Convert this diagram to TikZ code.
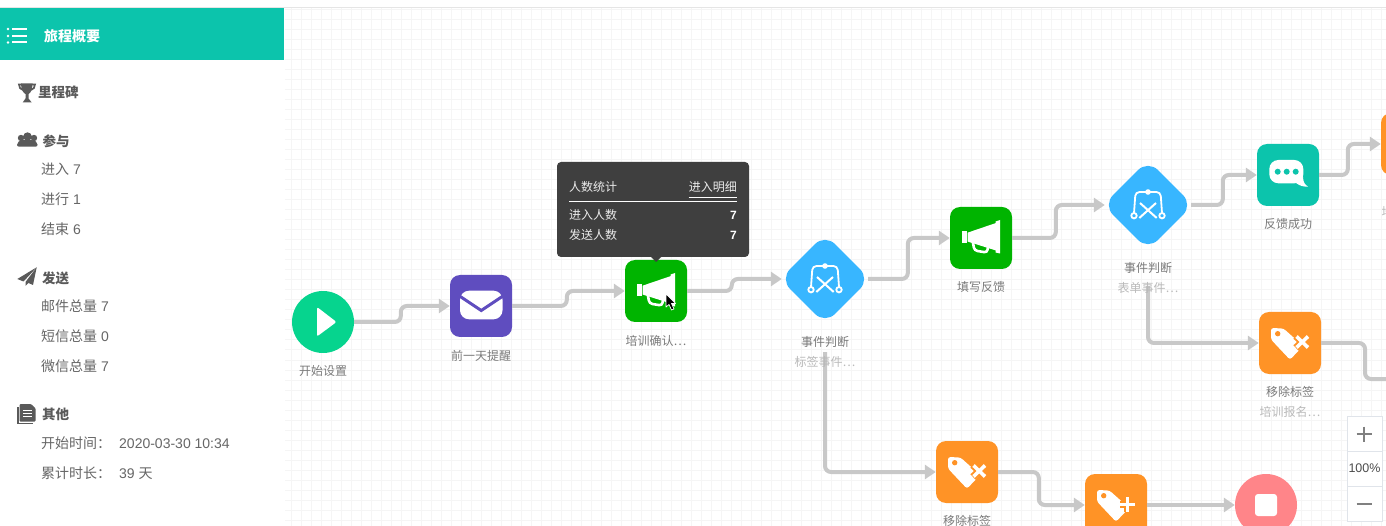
\documentclass[tikz,border=0pt]{standalone}
\usepackage{fontspec}
\setmainfont{Liberation Sans}
\newfontfamily\cjk{Noto Sans CJK SC}
\usetikzlibrary{positioning,arrows.meta,shapes.geometric}

\definecolor{teal1}{HTML}{0CC4AC}
\definecolor{green1}{HTML}{00B400}
\definecolor{green2}{HTML}{06D48E}
\definecolor{purple1}{HTML}{5F4DBF}
\definecolor{blue1}{HTML}{38B6FF}
\definecolor{orange1}{HTML}{FF9326}
\definecolor{pink1}{HTML}{FF8589}
\definecolor{flow1}{HTML}{C8C8C8}
\definecolor{dark1}{HTML}{3F3F3F}
\definecolor{head1}{HTML}{5A5A5A}
\definecolor{item1}{HTML}{666666}
\definecolor{zoomline}{HTML}{E0E4EA}

\newcommand{\pxfont}[1]{\fontsize{#1pt}{#1pt}\selectfont}

\tikzset{
  gridline/.style={draw=black!4, line width=1pt},
  box/.style={rectangle, rounded corners=10pt, minimum size=62pt, inner sep=0pt},
  judge/.style={diamond, aspect=1, fill=blue1, rounded corners=14pt, minimum size=90pt, inner sep=0pt},
  round/.style={circle, minimum size=62pt, inner sep=0pt},
  flow/.style={draw=flow1, line width=4pt, rounded corners=6pt, -{Triangle[length=11pt,width=14pt]}},
  flowend/.style={draw=flow1, line width=4pt, rounded corners=6pt},
  label1/.style={inner sep=0pt, text=black!52, font=\cjk\pxfont{12}},
  label2/.style={inner sep=0pt, text=black!27, font=\cjk\pxfont{12}},
  sidehead/.style={anchor=west, inner sep=0pt, text=head1, font=\cjk\bfseries\pxfont{13.5}},
  sideitem/.style={anchor=west, inner sep=0pt, text=item1, font=\pxfont{14}},
  tiptext/.style={anchor=west, inner sep=0pt, text=white!92!black, font=\cjk\pxfont{12}},
  tipnum/.style={anchor=east, inner sep=0pt, text=white, font=\bfseries\pxfont{12}},
  zoombox/.style={draw=zoomline, fill=white, minimum size=35pt, inner sep=0pt, text=black!70, font=\pxfont{12.5}},
  hornicon/.pic={
    \fill[white] (-19,-7.3) rectangle (-14.3,4.7);
    \fill[white] (-13.5,-5.3) -- (15,-15) -- (15,12.5) -- (-13.5,3.5) -- cycle;
    \fill[white] (14.5,-16.5) -- (19,-18) -- (19,15.5) -- (14.5,14.5) -- cycle;
    \draw[white, line width=2.6pt, rounded corners=3pt] (-8,5) -- (-6.6,12.5) -- (6.2,14.6) -- (7,8);
  },
  mailicon/.pic={
    \fill[white, rounded corners=9pt] (-21,-15.3) rectangle (21.5,13.3);
    \draw[purple1, line width=3pt] (-23,-11) -- (0.2,4.5) -- (23.5,-11);
  },
  playicon/.pic={
    \fill[white, rounded corners=2pt] (-6,-15) -- (13.5,0) -- (-6,14.5) -- cycle;
  },
  judgeicon/.pic={
    \fill[white] (0,-13) circle[radius=2.8pt];
    \draw[white, line width=1.8pt, rounded corners=4pt] (0,-13) -- (-12.5,-13) -- (-14,8);
    \draw[white, line width=1.8pt, rounded corners=4pt] (0,-13) -- (12.5,-13) -- (14,8);
    \draw[white, line width=1.8pt] (-14,10.7) circle[radius=2.7pt] (14,10.7) circle[radius=2.7pt];
    \draw[white, line width=2pt] (-8,-2) -- (8.7,13) (8,-2) -- (-8.7,13);
  },
  chaticon/.pic={
    \fill[white, rounded corners=9pt] (-18.7,-15) rectangle (15.3,8.3);
    \fill[white] (9,4) -- (15,2) .. controls (15,7) and (17,10) .. (20,11.5) .. controls (16,12) and (12,11) .. (8,8) -- cycle;
    \fill[teal1] (-10.3,-3.3) circle[radius=3pt] (-1.3,-3.3) circle[radius=3pt] (7.7,-3.3) circle[radius=3pt];
  },
  tagbody/.pic={
    \fill[white, rounded corners=2.5pt] (-19,-15) -- (-6.5,-14.5) -- (13,3) -- (0,16.7) -- (-19,-3.5) -- cycle;
    \fill[orange1] (-12.3,-9.3) circle[radius=2.7pt];
  },
  tagcross/.pic={
    \draw[orange1, line width=7.5pt] (6,-7) -- (18.5,5) (18.5,-7) -- (6,5);
    \draw[white, line width=3.6pt] (6.5,-6.5) -- (18,4.5) (18,-6.5) -- (6.5,4.5);
  },
  tagplus/.pic={
    \draw[orange1, line width=7.5pt] (11.3,-8) -- (11.3,6.5) (4,-0.7) -- (18.5,-0.7);
    \draw[white, line width=3.4pt] (11.3,-8) -- (11.3,6.5) (4,-0.7) -- (18.5,-0.7);
  }
}

\begin{document}
\begin{tikzpicture}[x=1pt,y=-1pt]
\useasboundingbox (0,0) rectangle (1386,526);
\fill[white] (0,0) rectangle (1386,526);

% canvas grid
\foreach \gx in {291,301,...,1381} \draw[gridline] (\gx,8) -- (\gx,526);
\foreach \gy in {10,20,...,520} \draw[gridline] (285,\gy) -- (1386,\gy);
\fill[white] (0,0) rectangle (1386,7);
\draw[black!10, line width=1pt] (0,7.5) -- (1386,7.5);

% sidebar
\fill[white] (0,8) rectangle (284.5,526);
\fill[teal1] (0,8) rectangle (284,60);
\fill[white] (8,29) circle[radius=1.3pt] (8,36) circle[radius=1.3pt] (8,42.5) circle[radius=1.3pt];
\draw[white, line width=2pt] (12,29) -- (27,29) (12,36) -- (27,36) (12,42.5) -- (27,42.5);
\node[anchor=west, inner sep=0pt, text=white, font=\cjk\bfseries\pxfont{14}] (Title) at (44,36) {旅程概要};

% trophy
\fill[head1] (21,83.5) -- (32.5,83.5) .. controls (32.5,90) and (30.5,93) .. (28.5,94) -- (28.5,98.5) -- (31.7,102.5) -- (22.7,102.5) -- (25.5,98.5) -- (25.5,94) .. controls (23.5,93) and (21,90) .. (21,83.5) -- cycle;
\draw[head1, line width=1.7pt] (21.5,84.5) -- (19,84.5) .. controls (19,87.5) and (20.5,89.5) .. (23,90) (32,84.5) -- (35,84.5) .. controls (35,87.5) and (33.2,89.5) .. (31,90);
\node[sidehead] (Miles) at (38,92) {里程碑};

% people
\fill[head1] (27.5,136.5) circle[radius=4.2pt] (21,138) circle[radius=3.2pt] (34,138) circle[radius=3.2pt];
\fill[head1, rounded corners=2pt] (17,146.7) -- (17,143) -- (21,140) -- (34,140) -- (37.6,143) -- (37.6,146.7) -- cycle;
\node[sidehead] (Join) at (42.5,141) {参与};
\node[sideitem] (Join1) at (41,169) {{\cjk 进入} 7};
\node[sideitem] (Join2) at (41,199) {{\cjk 进行} 1};
\node[sideitem] (Join3) at (41,229) {{\cjk 结束} 6};

% plane
\fill[head1] (36.7,267.3) -- (17.3,279) -- (23.5,281.5) -- cycle;
\fill[head1] (36.7,267.3) -- (25.5,282) -- (25.5,286) -- (28.5,283) -- (33,285) -- cycle;
\node[sidehead] (Send) at (42,278) {发送};
\node[sideitem] (Send1) at (41,306) {{\cjk 邮件总量} 7};
\node[sideitem] (Send2) at (41,336) {{\cjk 短信总量} 0};
\node[sideitem] (Send3) at (41,366) {{\cjk 微信总量} 7};

% document
\draw[head1, line width=1.2pt] (17.9,407) -- (17.9,423.4) -- (33,423.4);
\fill[head1, rounded corners=1pt] (19.5,404) -- (31,404) -- (35.7,408.5) -- (35.7,421.5) -- (19.5,421.5) -- cycle;
\draw[white, line width=1pt] (23,410.5) -- (32,410.5) (23,413.5) -- (32,413.5) (23,416.5) -- (32,416.5);
\node[sidehead] (Other) at (42,414) {其他};
\node[sideitem] (Other1) at (41,443) {{\cjk 开始时间：}\hspace{8pt}2020-03-30 10:34};
\node[sideitem] (Other2) at (41,473) {{\cjk 累计时长：}\hspace{8pt}39 {\cjk 天}};

% flow nodes
\node[round, fill=green2] (Start) at (323,322) {};
\node[box, fill=purple1] (Mail) at (481,306) {};
\node[box, fill=green1] (Horn1) at (656,291) {};
\node[judge] (Judge1) at (825,279) {};
\node[box, fill=green1] (Horn2) at (981,238) {};
\node[judge] (Judge2) at (1148,205) {};
\node[box, fill=teal1] (Chat) at (1288,175) {};
\node[box, fill=orange1] (Tag0) at (1412,144) {};
\node[box, fill=orange1] (Tag1) at (1290,343) {};
\node[box, fill=orange1] (Tag2) at (967,472) {};
\node[box, fill=orange1] (Tag3) at (1116,505) {};
\node[round, fill=pink1] (Stop) at (1266,505) {};

\coordinate (Judge1out) at ([yshift=-28pt]Judge1.south);
\coordinate (Judge2out) at ([yshift=-36pt]Judge2.south);
\coordinate (Tag1out) at (1386,379);

% connectors
\draw[flow] (Start.east) -| ([xshift=-49pt]Mail.west) -- (Mail.west);
\draw[flow] (Mail.east) -| ([xshift=-58pt]Horn1.west) -- (Horn1.west);
\draw[flow] (Horn1.east) -| ([xshift=-48pt]Judge1.west) -- ([xshift=2pt]Judge1.west);
\draw[flow] ([xshift=-2pt]Judge1.east) -| ([xshift=-42pt]Horn2.west) -- (Horn2.west);
\draw[flow] (Horn2.east) -| ([xshift=-47pt]Judge2.west) -- ([xshift=2pt]Judge2.west);
\draw[flow] ([xshift=-2pt]Judge2.east) -| ([xshift=-34pt]Chat.west) -- (Chat.west);
\draw[flow] (Chat.east) -| ([xshift=-33pt]Tag0.west) -- (Tag0.west);
\draw[flow] (Judge2out) |- (Tag1.west);
\draw[flow] (Judge1out) |- (Tag2.west);
\draw[flow] (Tag2.east) -| ([xshift=-46pt]Tag3.west) -- (Tag3.west);
\draw[flow] (Tag3.east) -- (Stop.west);
\draw[flowend] (Tag1.east) -| ([xshift=-21pt]Tag1out) -- (Tag1out);

% icons
\pic at (Start) {playicon};
\pic at (Mail) {mailicon};
\pic at (Horn1) {hornicon};
\pic at (Judge1) {judgeicon};
\pic at (Horn2) {hornicon};
\pic at (Judge2) {judgeicon};
\pic at (Chat) {chaticon};
\pic at (Tag1) {tagbody};
\pic at (Tag1) {tagcross};
\pic at (Tag2) {tagbody};
\pic at (Tag2) {tagcross};
\pic at (Tag3) {tagbody};
\pic at (Tag3) {tagplus};
\fill[white, rounded corners=3pt] ([shift={(-11pt,-11pt)}]Stop.center) rectangle ([shift={(11pt,11pt)}]Stop.center);

% labels
\node[label1, below=12.5pt of Start] (StartA) {开始设置};
\node[label1, below=12.5pt of Mail] (MailA) {前一天提醒};
\node[label1, below=12.5pt of Horn1] (Horn1A) {培训确认…};
\node[label1, below=12pt of Judge1] (Judge1A) {事件判断};
\node[label2, below=8pt of Judge1A] (Judge1B) {标签事件…};
\node[label1, below=12.5pt of Horn2] (Horn2A) {填写反馈};
\node[label1, below=12pt of Judge2] (Judge2A) {事件判断};
\node[label2, below=8pt of Judge2A] (Judge2B) {表单事件…};
\node[label1, below=12pt of Chat] (ChatA) {反馈成功};
\node[label2, below=31pt of Tag0] (Tag0B) {培训报名…};
\node[label1, below=12pt of Tag1] (Tag1A) {移除标签};
\node[label2, below=8pt of Tag1A] (Tag1B) {培训报名…};
\node[label1, below=12pt of Tag2] (Tag2A) {移除标签};

% tooltip
\node[fill=dark1, rounded corners=4pt, minimum width=192pt, minimum height=95pt, inner sep=0pt] (Tip) at (653,209.5) {};
\fill[dark1] (651,257) -- (661,257) -- (656,262) -- cycle;
\node[tiptext] (TipA) at (569,187) {人数统计};
\node[tiptext, anchor=east] (TipB) at (737,187) {进入明细};
\draw[white, line width=1pt] (TipB.west |- 0,197.5) -- (TipB.east |- 0,197.5);
\draw[white, line width=1pt] (TipA.west |- 0,201.5) -- (TipB.east |- 0,201.5);
\node[tiptext] (TipC) at (569,215) {进入人数};
\node[tipnum] (TipD) at (737,215) {7};
\node[tiptext] (TipE) at (569,235) {发送人数};
\node[tipnum] (TipF) at (737,235) {7};

% cursor
\fill[black, draw=white, line width=0.7pt, line join=round] (666,294) -- (666,307) -- (669,304.5) -- (671.5,310) -- (674,309) -- (671.5,303.5) -- (675.5,303.5) -- cycle;

% zoom buttons
\node[zoombox] (ZoomIn) at (1364.5,433.5) {};
\node[zoombox] (ZoomPct) at (1364.5,468.5) {100\%};
\node[zoombox] (ZoomOut) at (1364.5,503.5) {};
\draw[black!50, line width=2.4pt] (1356.5,434) -- (1371.5,434) (1364,426.5) -- (1364,441.5);
\draw[black!50, line width=2.4pt] (1356.5,504) -- (1371.5,504);
\end{tikzpicture}
\end{document}
